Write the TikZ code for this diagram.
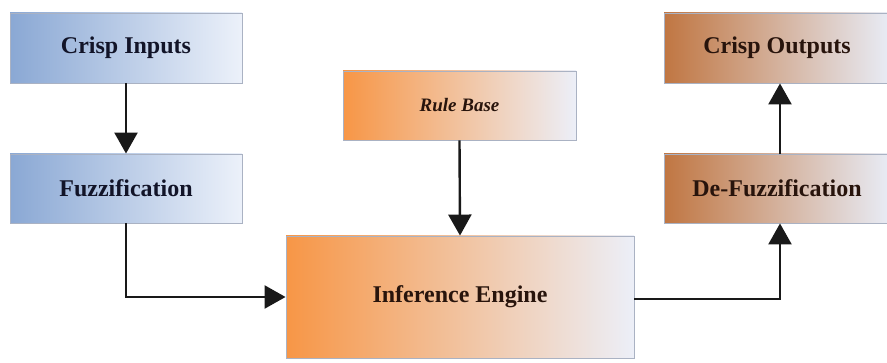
\documentclass[tikz,border=0pt]{standalone}
\usepackage{fontspec}
\setmainfont{Liberation Serif}
\usetikzlibrary{arrows.meta}
\definecolor{blueL}{RGB}{138,168,212}
\definecolor{blueR}{RGB}{236,241,250}
\definecolor{orL}{RGB}{247,150,70}
\definecolor{orR}{RGB}{236,239,248}
\definecolor{brL}{RGB}{192,118,66}
\definecolor{brR}{RGB}{232,236,246}
\definecolor{bordc}{RGB}{170,178,195}
\definecolor{linec}{RGB}{25,25,25}
\definecolor{txtblue}{RGB}{18,20,40}
\definecolor{txtbrown}{RGB}{40,20,12}
\tikzset{
  boxbase/.style={rectangle, draw=bordc, line width=0.9pt, inner sep=0pt, align=center,
    font=\fontsize{24}{28}\selectfont\bfseries},
  bluebox/.style={boxbase, left color=blueL, right color=blueR, text=txtblue},
  orbox/.style={boxbase, left color=orL, right color=orR, text=txtbrown},
  brbox/.style={boxbase, left color=brL, right color=brR, text=txtbrown},
  conn/.style={draw=linec, line width=2.4pt, -{Triangle[length=21pt,width=23pt]}}
}
\begin{document}
\begin{tikzpicture}[x=1pt,y=-1pt]
\useasboundingbox (0,0) rectangle (887,363);
\node[bluebox, minimum width=232pt, minimum height=70pt] (ci) at (126,48) {Crisp Inputs};
\node[bluebox, minimum width=232pt, minimum height=69pt] (fz) at (126,188.5) {Fuzzification};
\node[orbox, minimum width=233pt, minimum height=69pt, font=\fontsize{19}{23}\selectfont\bfseries\itshape] (rb) at (459.5,105.5) {Rule Base};
\node[orbox, minimum width=348pt, minimum height=122pt] (ie) at (460,297) {Inference Engine};
\node[brbox, minimum width=226pt, minimum height=70pt] (co) at (777,48) {Crisp Outputs};
\node[brbox, minimum width=226pt, minimum height=69pt] (df) at (777,188.5) {De-Fuzzification};
\draw[conn] (ci.south) -- (fz.north);
\draw[conn] (fz.south) |- (ie.west);
\draw[conn] (rb.south) -- (ie.north);
\draw[conn] ([yshift=-2pt]ie.east) -| ([xshift=3pt]df.south);
\draw[conn] ([xshift=3pt]df.north) -- ([xshift=3pt]co.south);
\end{tikzpicture}
\end{document}
